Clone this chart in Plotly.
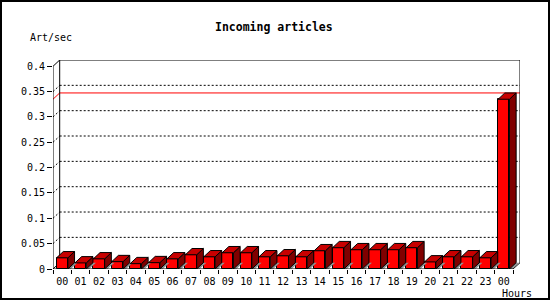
import plotly.graph_objects as go

# ---- data ----
hour_labels = ["00", "01", "02", "03", "04", "05", "06", "07", "08", "09", "10", "11",
               "12", "13", "14", "15", "16", "17", "18", "19", "20", "21", "22", "23", "00"]
art_per_sec = [0.022, 0.012, 0.020, 0.0145, 0.0105, 0.0125, 0.020, 0.028, 0.024, 0.032,
               0.032, 0.024, 0.026, 0.024, 0.036, 0.042, 0.038, 0.038, 0.038, 0.042,
               0.014, 0.024, 0.024, 0.022, 0.335]
y_ticks = [0, 0.05, 0.1, 0.15, 0.2, 0.25, 0.3, 0.35, 0.4]
y_ticktext = ["0", "0.05", "0.1", "0.15", "0.2", "0.25", "0.3", "0.35", "0.4"]

# ---- geometry (pixel layout) ----
W, H = 550, 300
PL, PR, PT, PB = 53, 520, 60, 269          # plot area in pixels
n = len(art_per_sec)
XL = -0.5
XF = n - 0.5                                 # right end of front plane
px_per_cat = (513 - 53) / n
XR = XF + (PR - 513) / px_per_cat
px_per_unit = (269 - 66.3) / 0.4
YT = (PB - PT) / px_per_unit
DX = 6.7 / px_per_cat                        # 3D depth offsets
DY = 6.3 / px_per_unit
BW = 11.3 / px_per_cat                       # bar width
SH = 3.0 / px_per_cat                        # shadow shift

FONT = "DejaVu Sans Mono"

xs = list(range(n))

fig = go.Figure()

# gray floor shadows
sx, sy = [], []
for i, v in zip(xs, art_per_sec):
    r = i + BW / 2
    sx += [r, r + SH, r + SH + DX, r + DX, r, None]
    sy += [0, 0, DY, DY, 0, None]
fig.add_trace(go.Scatter(x=sx, y=sy, fill="toself", fillcolor="#909090",
                         line=dict(width=0), mode="lines", hoverinfo="skip", showlegend=False))

# front faces
fig.add_trace(go.Bar(x=xs, y=art_per_sec, width=BW, marker=dict(color="#ff0000", line=dict(color="black", width=1)),
                     showlegend=False, hoverinfo="skip"))

# side faces
sx, sy = [], []
for i, v in zip(xs, art_per_sec):
    r = i + BW / 2
    sx += [r, r + DX, r + DX, r, r, None]
    sy += [0, DY, v + DY, v, 0, None]
fig.add_trace(go.Scatter(x=sx, y=sy, fill="toself", fillcolor="#800000",
                         line=dict(color="black", width=1), mode="lines", hoverinfo="skip", showlegend=False))

# top faces
tx, ty = [], []
for i, v in zip(xs, art_per_sec):
    l, r = i - BW / 2, i + BW / 2
    tx += [l, r, r + DX, l + DX, l, None]
    ty += [v, v, v + DY, v + DY, v, None]
fig.add_trace(go.Scatter(x=tx, y=ty, fill="toself", fillcolor="#c80000",
                         line=dict(color="black", width=1), mode="lines", hoverinfo="skip", showlegend=False))

# dummy trace for boundary tick axis
fig.add_trace(go.Scatter(x=[XL], y=[0], xaxis="x2", mode="markers", marker=dict(opacity=0),
                         hoverinfo="skip", showlegend=False))

shapes = []
def line(x0, y0, x1, y1, color="black", dash="solid", width=1):
    shapes.append(dict(type="line", xref="x", yref="y", x0=x0, y0=y0, x1=x1, y1=y1,
                       line=dict(color=color, width=width, dash=dash), layer="below"))

# dotted gridlines on back wall
for t in y_ticks[1:-1]:
    line(XL, t, XL + DX, t + DY, dash="2px,2px")
    line(XL + DX, t + DY, XR, t + DY, dash="2px,2px")

# max value line
vmax = max(art_per_sec)
line(XL, vmax, XL + DX, vmax + DY, color="#ff0000")
line(XL + DX, vmax + DY, XR, vmax + DY, color="#ff0000")

# frame
line(XL, 0, XL, 0.4)                 # front y axis
line(XL, 0.4, XL + DX, 0.4 + DY)     # top-left diagonal
line(XL + DX, 0.4 + DY, XR, 0.4 + DY)  # back top
line(XL + DX, DY, XL + DX, 0.4 + DY)   # back left
line(XR, DY, XR, 0.4 + DY)            # back right
line(XL, 0, XL + DX, DY)              # bottom-left diagonal
line(XF, 0, XR, DY)                   # bottom-right diagonal
shapes.append(dict(type="line", xref="x", yref="y", x0=XL, y0=0, x1=XF, y1=0,
                   line=dict(color="black", width=1), layer="above"))

# outer border
def px_x(p):
    return (p - PL) / (PR - PL)
def px_y(p):
    return (PB - p) / (PB - PT)
shapes.append(dict(type="rect", xref="paper", yref="paper", x0=px_x(1), x1=px_x(549), y0=px_y(1), y1=px_y(299),
                   line=dict(color="black", width=2), fillcolor="rgba(0,0,0,0)"))

annotations = [
    dict(text="<b>Incoming articles</b>", xref="paper", yref="paper", x=px_x(273.5), y=px_y(27),
         xanchor="center", yanchor="middle", showarrow=False, font=dict(family=FONT, size=11.5, color="black")),
    dict(text="Art/sec", xref="paper", yref="paper", x=px_x(28), y=px_y(37),
         xanchor="left", yanchor="middle", showarrow=False, font=dict(family=FONT, size=10, color="black")),
    dict(text="Hours", xref="paper", yref="paper", x=px_x(534), y=px_y(293),
         xanchor="right", yanchor="middle", showarrow=False, font=dict(family=FONT, size=10, color="black")),
]

fig.update_layout(
    width=W, height=H,
    margin=dict(l=PL, r=W - PR, t=PT, b=H - PB, pad=0),
    paper_bgcolor="white", plot_bgcolor="white",
    font=dict(family=FONT, size=10, color="black"),
    bargap=0,
    xaxis=dict(range=[XL, XR], tickvals=xs, ticktext=hour_labels, ticks="outside", ticklen=3,
               tickcolor="rgba(0,0,0,0)", showgrid=False, zeroline=False, showline=False,
               tickfont=dict(family=FONT, size=10)),
    xaxis2=dict(range=[XL, XR], overlaying="x", anchor="y", side="bottom",
                tickvals=[k - 0.5 for k in range(n + 1)], ticks="outside", ticklen=4, tickcolor="black",
                showticklabels=False, showgrid=False, zeroline=False, showline=False),
    yaxis=dict(range=[0, YT], tickvals=y_ticks, ticktext=y_ticktext, ticks="outside", ticklen=5,
               tickcolor="black", showgrid=False, zeroline=False, showline=False,
               tickfont=dict(family=FONT, size=10)),
    shapes=shapes,
    annotations=annotations,
)

fig.write_html("out.html")
